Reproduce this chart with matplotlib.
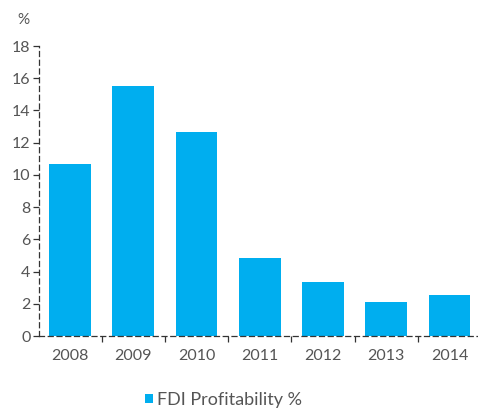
import numpy as np
import matplotlib.pyplot as plt
from matplotlib.ticker import FixedLocator

# FDI profitability by year
years = ['2008', '2009', '2010', '2011', '2012', '2013', '2014']
profitability = [10.7, 15.5, 12.65, 4.85, 3.35, 2.1, 2.55]

bar_color = '#00aeef'
text_color = '#555555'
axis_color = '#333333'

plt.rcParams['font.family'] = ['Lato', 'DejaVu Sans']

fig = plt.figure(figsize=(4.78, 4.12), dpi=100)
ax = fig.add_axes([39 / 478, 76 / 412, 439 / 478, 290 / 412])

x = np.arange(len(years))
ax.bar(x, profitability, width=0.66, color=bar_color, label='FDI Profitability %')

ax.set_xlim(-0.49, 6.45)
ax.set_ylim(0, 18)
ax.set_yticks(range(0, 19, 2))
ax.set_xticks(x)
ax.set_xticklabels(years)
ax.xaxis.set_minor_locator(FixedLocator(x[:-1] + 0.5))

for side in ['top', 'right']:
    ax.spines[side].set_visible(False)
for side in ['left', 'bottom']:
    ax.spines[side].set_color(axis_color)
    ax.spines[side].set_linewidth(0.9)
    ax.spines[side].set_linestyle((0, (4, 3)))

ax.tick_params(axis='y', length=4, width=0.9, color=axis_color,
               labelsize=11.5, labelcolor=text_color, pad=2)
ax.tick_params(axis='x', which='major', length=0, labelsize=11.5,
               labelcolor=text_color, pad=9)
ax.tick_params(axis='x', which='minor', length=4, width=0.9, color=axis_color)

fig.text(23 / 478, 1 - 20 / 412, '%', color=text_color, fontsize=11,
         ha='center', va='center')

fig.legend(loc='center left', bbox_to_anchor=(145 / 478, 12 / 412),
           frameon=False, handlelength=0.45, handleheight=0.45,
           handletextpad=0.2, fontsize=13, labelcolor=text_color,
           borderaxespad=0, borderpad=0)

fig.savefig('out.png', dpi=100)
